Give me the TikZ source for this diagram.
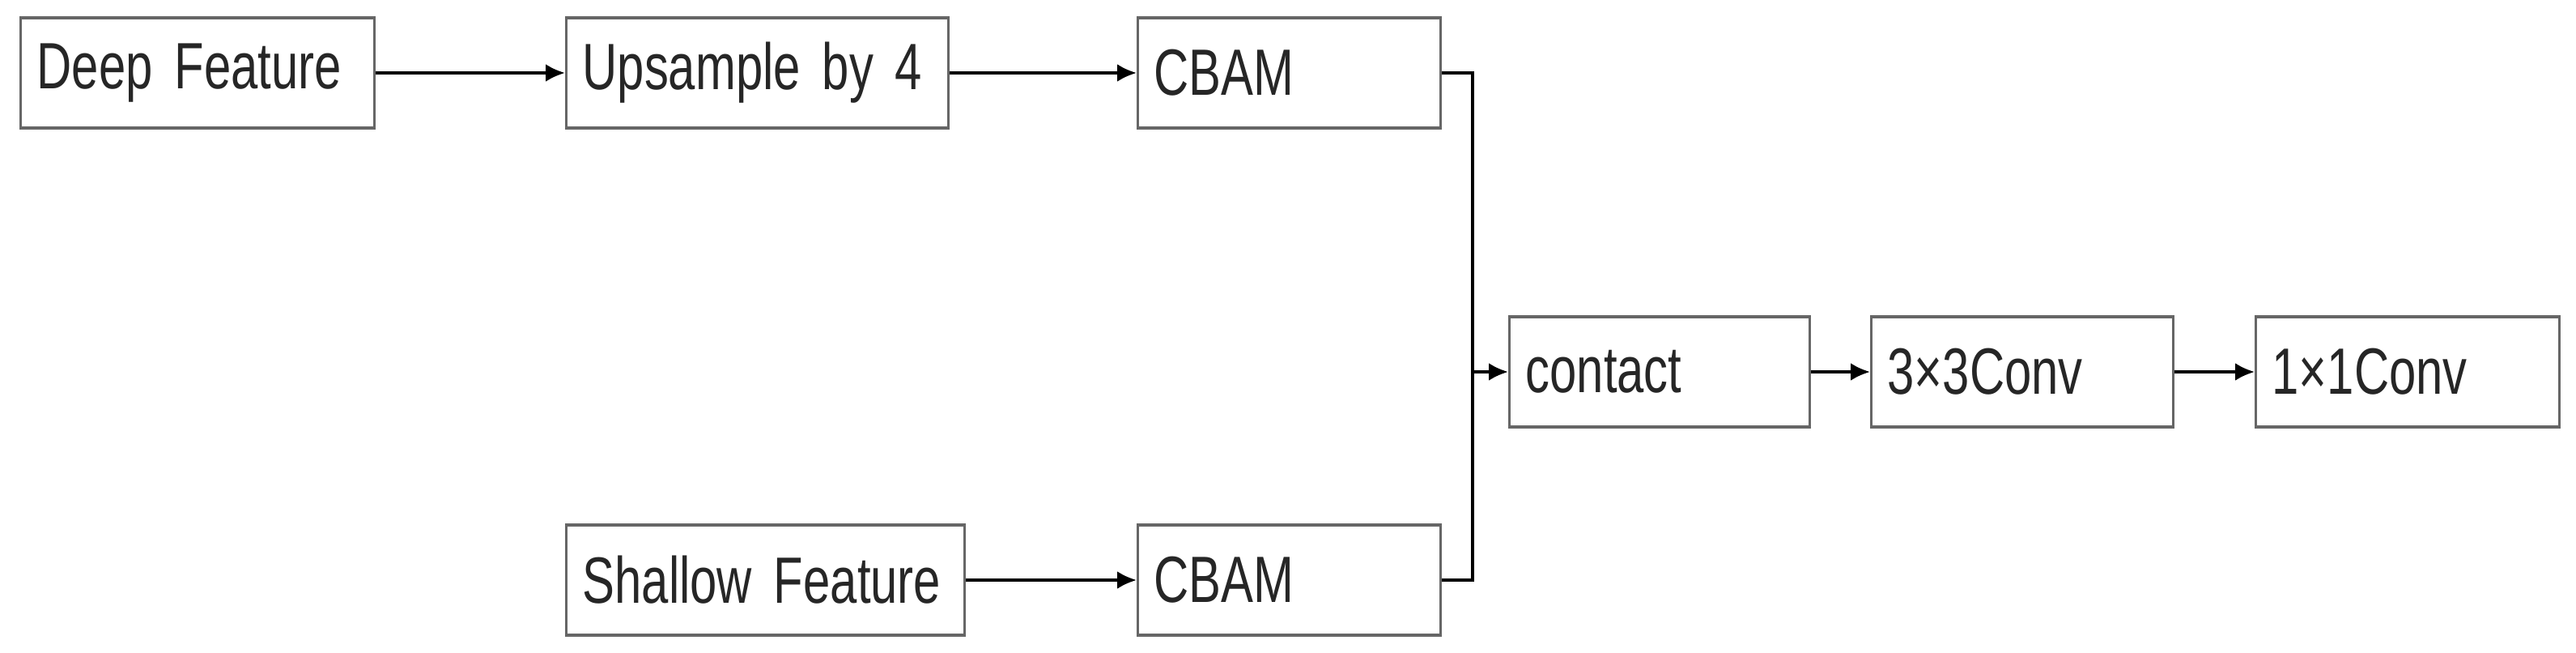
\documentclass[tikz,border=0pt]{standalone}
\usepackage{fontspec}
\setmainfont{Liberation Sans}[FakeStretch=0.74]
\usepackage{tikz}
\usetikzlibrary{arrows.meta, positioning}
\tikzset{
  box/.style = {rectangle, draw = black!60, line width = 0.9pt, minimum height = 1.36cm,
                inner xsep = 0.2cm, align = left, text width = #1, anchor = west,
                font = \fontsize{23}{26}\selectfont, text = black!85},
  flow/.style = {-{Latex[length = 2.4mm, width = 2.2mm]}, line width = 1.1pt},
  link/.style = {line width = 1.1pt}
}
\begin{document}
\begin{tikzpicture}
    \useasboundingbox (0,0) rectangle (31.82,-8.06);
    % top branch
    \node[box = 3.97cm] (deep) at (0.24,-0.90) {Deep Feature};
    \node[box = 4.32cm] (up) at (6.98,-0.90) {Upsample by 4};
    \node[box = 3.34cm] (cbam1) at (14.04,-0.90) {CBAM};
    % bottom branch
    \node[box = 4.52cm] (shallow) at (6.98,-7.16) {Shallow Feature};
    \node[box = 3.34cm] (cbam2) at (14.04,-7.16) {CBAM};
    % output chain
    \node[box = 3.31cm] (contact) at (18.63,-4.59) {contact};
    \node[box = 3.33cm] (conv3) at (23.10,-4.59) {3×3Conv};
    \node[box = 3.35cm] (conv1) at (27.85,-4.59) {1×1Conv};
    \coordinate (merge) at (18.19,-4.59);
    % connectors
    \draw[flow] (deep) -- (up);
    \draw[flow] (up) -- (cbam1);
    \draw[flow] (shallow) -- (cbam2);
    \draw[link] (cbam1.east) -| (merge);
    \draw[link] (cbam2.east) -| (merge);
    \draw[flow] (merge) -- (contact);
    \draw[flow] (contact) -- (conv3);
    \draw[flow] (conv3) -- (conv1);
\end{tikzpicture}
\end{document}
